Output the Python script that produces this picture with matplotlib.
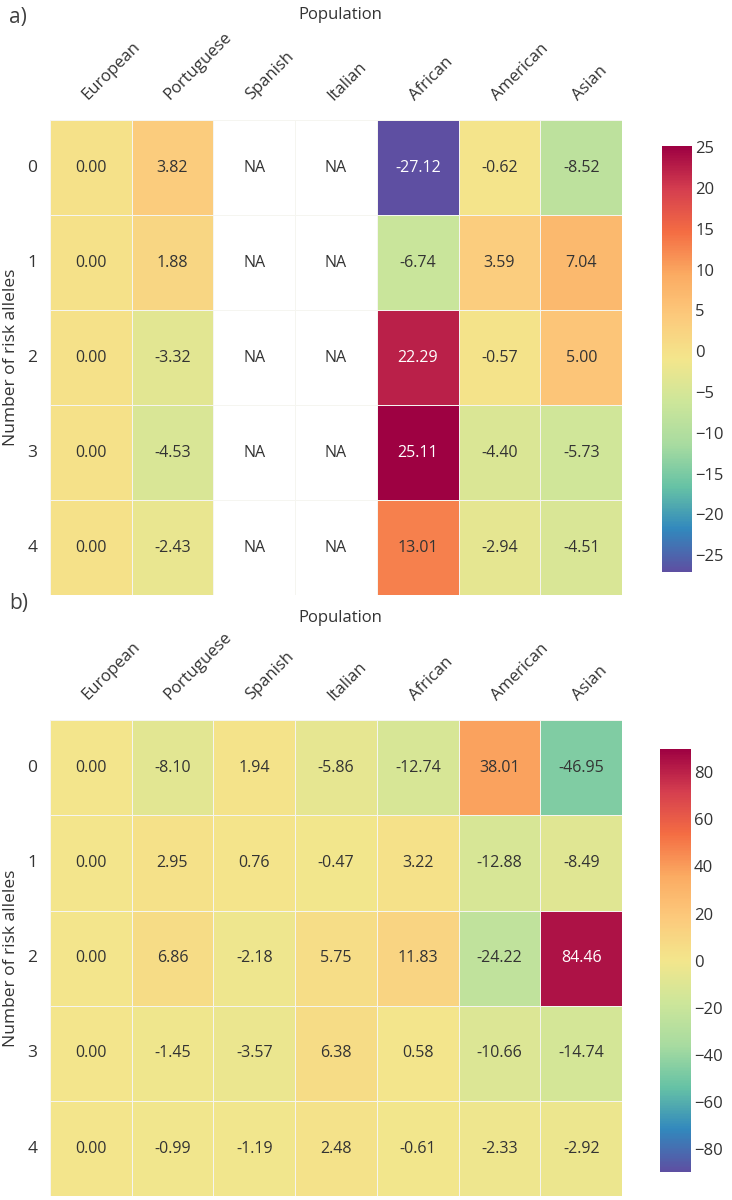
import numpy as np
import matplotlib
import matplotlib.pyplot as plt
import seaborn as sns
from matplotlib.colors import LinearSegmentedColormap, Normalize

POPULATIONS = ['European', 'Portuguese', 'Spanish', 'Italian', 'African', 'American', 'Asian']
RISK_ALLELES = ['0', '1', '2', '3', '4']

# panel a: Spanish and Italian not available
VALUES_A = [
    [0.00, 3.82, np.nan, np.nan, -27.12, -0.62, -8.52],
    [0.00, 1.88, np.nan, np.nan, -6.74, 3.59, 7.04],
    [0.00, -3.32, np.nan, np.nan, 22.29, -0.57, 5.00],
    [0.00, -4.53, np.nan, np.nan, 25.11, -4.40, -5.73],
    [0.00, -2.43, np.nan, np.nan, 13.01, -2.94, -4.51],
]
VALUES_B = [
    [0.00, -8.10, 1.94, -5.86, -12.74, 38.01, -46.95],
    [0.00, 2.95, 0.76, -0.47, 3.22, -12.88, -8.49],
    [0.00, 6.86, -2.18, 5.75, 11.83, -24.22, 84.46],
    [0.00, -1.45, -3.57, 6.38, 0.58, -10.66, -14.74],
    [0.00, -0.99, -1.19, 2.48, -0.61, -2.33, -2.92],
]
CBAR_TICKS_A = [-25, -20, -15, -10, -5, 0, 5, 10, 15, 20, 25]
CBAR_TICKS_B = [-80, -60, -40, -20, 0, 20, 40, 60, 80]

# Spectral_r, but with the warmer khaki middle seen in the figure
CMAP = LinearSegmentedColormap.from_list('spectral_khaki', [
    '#5e4fa2', '#3288bd', '#66c2a5', '#a8dba0', '#cde69a', '#f3e68c',
    '#fcca7c', '#fbab62', '#f46d43', '#d53e4f', '#9e0142'])

sns.set_style('white')
plt.rcParams['font.family'] = ['Open Sans', 'DejaVu Sans']
TEXT = '#333333'


def luminance(rgba):
    r, g, b = [c / 12.92 if c <= 0.03928 else ((c + 0.055) / 1.055) ** 2.4 for c in rgba[:3]]
    return 0.2126 * r + 0.7152 * g + 0.0722 * b


def draw_panel(fig, rect, cbar_rect, values, vmin, vmax, ticks, letter, title_gap, letter_gap):
    ax = fig.add_axes(rect)
    cax = fig.add_axes(cbar_rect)
    data = np.array(values, dtype=float)
    norm = Normalize(vmin, vmax)
    sns.heatmap(data, ax=ax, cbar_ax=cax, cmap=CMAP, vmin=vmin, vmax=vmax,
                annot=True, fmt='.2f', annot_kws={'fontsize': 11.5},
                linewidths=0.6, linecolor='#f5f5f0',
                xticklabels=POPULATIONS, yticklabels=RISK_ALLELES,
                cbar_kws={'ticks': ticks})
    for t in ax.texts:
        x, y = t.get_position()
        v = data[int(y), int(x)]
        t.set_color('white' if luminance(CMAP(norm(v))) < 0.25 else TEXT)
    for i in range(data.shape[0]):
        for j in range(data.shape[1]):
            if np.isnan(data[i, j]):
                ax.text(j + 0.5, i + 0.5, 'NA', ha='center', va='center', fontsize=11.5, color=TEXT)
    ax.xaxis.tick_top()
    plt.setp(ax.get_xticklabels(), rotation=45, ha='left', rotation_mode='anchor',
             fontsize=12, color=TEXT)
    plt.setp(ax.get_yticklabels(), rotation=0, fontsize=12.5, color=TEXT)
    ax.tick_params(axis='x', length=0, pad=12)
    ax.tick_params(axis='y', length=0, pad=9)
    ax.set_ylabel('Number of risk alleles', fontsize=12.5, color=TEXT, labelpad=6)
    cax.tick_params(labelsize=12, length=0, labelcolor=TEXT, pad=2)
    ax.collections[0].colorbar.outline.set_visible(False)
    top = rect[1] + rect[3]
    fig.text(0.465, top + title_gap, 'Population', ha='center', va='center',
             fontsize=12, color=TEXT)
    fig.text(0.012, top + letter_gap, letter, ha='left', va='center',
             fontsize=15, color='#404040')
    return ax


fig = plt.figure(figsize=(7.32, 12), dpi=100)
draw_panel(fig, [0.068, 0.504, 0.782, 0.396], [0.904, 0.523, 0.042, 0.355],
           VALUES_A, -27.12, 25.11, CBAR_TICKS_A, 'a)', 0.0875, 0.085)
draw_panel(fig, [0.068, 0.003, 0.782, 0.397], [0.902, 0.023, 0.042, 0.353],
           VALUES_B, -90, 90, CBAR_TICKS_B, 'b)', 0.085, 0.097)

fig.savefig('out.png', dpi=100)
